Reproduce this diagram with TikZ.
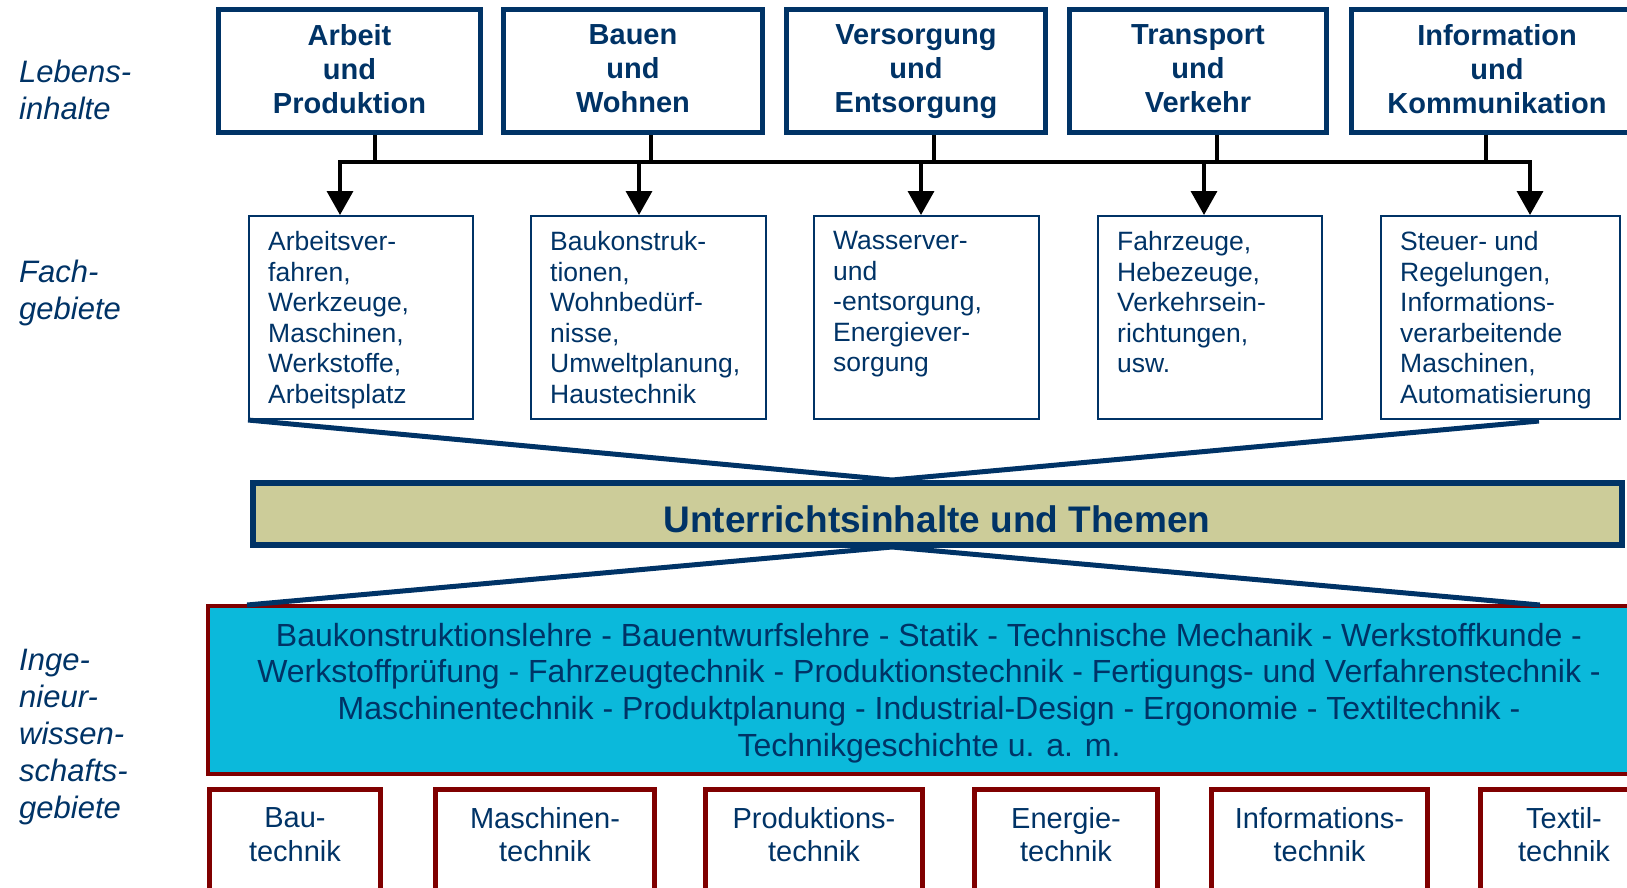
\documentclass[tikz,border=0pt]{standalone}
\usepackage{fontspec}
\setmainfont{Liberation Sans}
\usetikzlibrary{arrows.meta,positioning}

\definecolor{navy}{HTML}{003366}
\definecolor{tanfill}{HTML}{CCCC99}
\definecolor{cyanfill}{HTML}{0BB9DB}
\definecolor{darkred}{HTML}{800000}

\tikzset{
  lebbox/.style={draw=navy, line width=5pt, minimum height=123pt, align=center, text=navy,
    font=\fontsize{29}{34}\selectfont\bfseries, text depth=4pt},
  fachbox/.style={draw=navy, line width=2pt, minimum height=203pt},
  fachtext/.style={anchor=north west, align=left, text=navy, inner sep=0pt,
    font=\fontsize{26.5}{30.6}\selectfont},
  sidelabel/.style={anchor=west, align=left, text=navy, inner sep=0pt,
    font=\fontsize{31}{37}\selectfont\itshape},
  funnel/.style={draw=navy, line width=5pt},
  bus/.style={draw=black, line width=3.5pt},
  arr/.style={bus, -{Triangle[width=26pt,length=24pt]}},
  ingbox/.style={draw=darkred, line width=5pt, minimum height=130pt, anchor=north},
  ingtext/.style={align=center, text=navy, font=\fontsize{29}{33.5}\selectfont},
}

\begin{document}
\begin{tikzpicture}[x=1pt,y=-1pt]
  \useasboundingbox (0,0) rectangle (1627,887);
  \clip (0,0) rectangle (1627,887);

  % Left labels
  \node[sidelabel] (lab1) at (19,90) {Lebens-\\inhalte};
  \node[sidelabel] (lab2) at (19,293) {Fach-\\gebiete};
  \node[sidelabel] (lab3) at (19,737) {Inge-\\nieur-\\wissen-\\schafts-\\gebiete};

  % Lebensinhalte (top row)
  \node[lebbox, minimum width=262pt] (l1) at (349.5,71) {Arbeit\\und\\Produktion};
  \node[lebbox, minimum width=259pt] (l2) at (633,71) {Bauen\\und\\Wohnen};
  \node[lebbox, minimum width=259pt] (l3) at (916,71) {Versorgung\\und\\Entsorgung};
  \node[lebbox, minimum width=257pt] (l4) at (1198,71) {Transport\\und\\Verkehr};
  \node[lebbox, minimum width=291pt] (l5) at (1497,71) {Information\\und\\Kommunikation};

  % Fachgebiete (second row)
  \node[fachbox, minimum width=224pt] (f1) at (361,317.5) {};
  \node[fachbox, minimum width=235pt] (f2) at (648.5,317.5) {};
  \node[fachbox, minimum width=225pt] (f3) at (926.5,317.5) {};
  \node[fachbox, minimum width=224pt] (f4) at (1210,317.5) {};
  \node[fachbox, minimum width=239pt] (f5) at (1500.5,317.5) {};
  \node[fachtext] (ft1) at ([xshift=20pt,yshift=-16pt]f1.north west)
    {Arbeitsver-\\fahren,\\Werkzeuge,\\Maschinen,\\Werkstoffe,\\Arbeitsplatz};
  \node[fachtext] (ft2) at ([xshift=20pt,yshift=-16pt]f2.north west)
    {Baukonstruk-\\tionen,\\Wohnbedürf-\\nisse,\\Umweltplanung,\\Haustechnik};
  \node[fachtext] (ft3) at ([xshift=20pt,yshift=-16pt]f3.north west)
    {Wasserver-\\und\\-entsorgung,\\Energiever-\\sorgung};
  \node[fachtext] (ft4) at ([xshift=20pt,yshift=-16pt]f4.north west)
    {Fahrzeuge,\\Hebezeuge,\\Verkehrsein-\\richtungen,\\usw.};
  \node[fachtext] (ft5) at ([xshift=20pt,yshift=-16pt]f5.north west)
    {Steuer- und\\Regelungen,\\Informations-\\verarbeitende\\Maschinen,\\Automatisierung};

  % Bus with stems and arrows
  \foreach \i/\x in {1/375,2/651,3/934,4/1217,5/1486} \coordinate (s\i) at (\x,162);
  \foreach \i/\x in {1/340,2/639,3/921,4/1204,5/1530} \coordinate (b\i) at (\x,162);
  \draw[bus, line cap=rect] (b1) -- (b5);
  \foreach \i in {1,...,5} {
    \draw[bus] (l\i.south -| s\i) -- (s\i);
    \draw[arr] (b\i) -- (b\i |- f\i.north);
  }

  % Unterrichtsinhalte
  \node[draw=navy, line width=6pt, fill=tanfill, minimum width=1369pt, minimum height=62pt]
    (thema) at (937.5,514) {};
  \node[text=navy, font=\fontsize{37}{40}\selectfont\bfseries] (thematext) at (937,519)
    {Unterrichtsinhalte und Themen};

  % Funnel lines
  \coordinate (apu) at (892,480);
  \coordinate (fr) at (1539,421);
  \coordinate (apl) at (892,547);
  \coordinate (gl) at (247,605);
  \coordinate (gr) at (1540,605);
  \draw[funnel] (f1.south west) -- (apu) -- (fr);

  % Ingenieurwissenschaftsgebiete
  \node[draw=darkred, line width=4pt, fill=cyanfill, minimum width=1442pt, minimum height=168pt]
    (ing) at (929,690) {};
  \node[align=center, text=navy, font=\fontsize{32}{36.7}\selectfont] (ingt) at (929,693)
    {Baukonstruktionslehre - Bauentwurfslehre - Statik - Technische Mechanik - Werkstoffkunde -\\
     Werkstoffprüfung - Fahrzeugtechnik - Produktionstechnik - Fertigungs- und Verfahrenstechnik -\\
     Maschinentechnik - Produktplanung - Industrial-Design - Ergonomie - Textiltechnik -\\
     Technikgeschichte u. a. m.};
  \draw[funnel] (gl) -- (apl) -- (gr);

  % Bottom row
  \foreach \nm/\x/\w/\txt in {g1/295/171/Bau-\\technik, g2/545/219/Maschinen-\\technik,
      g3/814/217/Produktions-\\technik, g4/1066/183/Energie-\\technik,
      g5/1319.5/216/Informations-\\technik, g6/1564/167/Textil-\\technik} {
    \node[ingbox, minimum width=\w pt] (\nm) at (\x,786.5) {};
    \node[ingtext] (\nm t) at (\x,834.5) {\txt};
  }
\end{tikzpicture}
\end{document}
